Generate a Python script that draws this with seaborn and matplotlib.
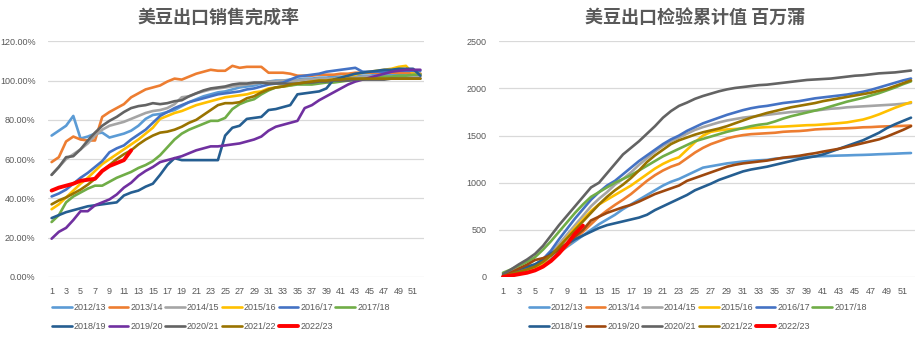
import matplotlib
matplotlib.use("Agg")
import matplotlib.pyplot as plt
from matplotlib.lines import Line2D
import pandas as pd
import seaborn as sns

weeks = list(range(1, 53))
seasons = ["2012/13", "2013/14", "2014/15", "2015/16", "2016/17", "2017/18",
           "2018/19", "2019/20", "2020/21", "2021/22", "2022/23"]
tick_weeks = list(range(1, 52, 2))

# 美豆出口销售完成率 (%)
sales_2012_13 = [72, 74.5, 77, 82, 70.5, 71.5, 73, 73.5, 71, 72, 73, 74.5, 77, 80.5, 82.5, 83, 84, 85, 87, 89,
                 90.5, 92, 93, 94, 94.5, 95.5, 96.5, 97, 97.5, 98.5, 99.5, 100, 100, 100.5, 100.5, 101, 101, 101.5,
                 101.5, 102, 102, 102, 102, 102.5, 102.5, 103, 103, 103, 103, 103.5, 103.5, 103.5]
sales_2013_14 = [58.5, 61, 69, 71.5, 70, 69.5, 69.5, 81.5, 84, 86, 88, 91.5, 93.5, 95.5, 96.5, 97.5, 99.5, 101,
                 100.5, 102, 103.5, 104.5, 105.5, 105, 105, 107.5, 106.5, 107, 107, 107, 104, 104, 104, 103.5,
                 102.5, 102.5, 102.5, 103, 103, 103, 103.5, 103.5, 104, 104, 104, 104, 104, 104, 104, 104, 103.5, 103.5]
sales_2014_15 = [52, 56, 60, 62.5, 65, 68, 72, 75, 77, 78, 79, 80.5, 82, 83.5, 84.5, 85, 86, 88, 91.5, 92, 93.5,
                 94.5, 95.5, 96, 96.5, 97, 97.5, 98, 98.5, 99, 99.5, 99.5, 100, 100, 100, 100.5, 100.5, 101, 101, 101,
                 101.5, 101.5, 101.5, 102, 102, 102, 102, 102, 102, 102, 102, 102]
sales_2015_16 = [34.5, 37, 40.5, 44, 47.5, 50.5, 54, 57.5, 60, 62.5, 65, 67.5, 70, 73, 76, 80.5, 82, 83.5, 84.5, 86,
                 87.5, 88.5, 89.5, 90.5, 91.5, 92, 92.5, 93, 94, 94.5, 96, 96.5, 97, 97.5, 98.5, 99, 99.5, 100, 100,
                 100.5, 101.5, 102.5, 103, 104, 104.5, 105, 105.5, 106, 107, 107.5, 103.5, 103]
sales_2016_17 = [41, 42.5, 44.5, 47.5, 50.5, 53, 56, 59, 63.5, 65.5, 67, 70, 72.5, 75, 78.5, 82, 84, 86, 87.5, 89,
                 90, 91, 92, 93, 93.5, 94, 94.5, 95.5, 96, 97, 98, 98.5, 99, 100.5, 102, 102.5, 103, 103.5, 104.5, 105,
                 105.5, 106, 106.5, 104.5, 104.5, 104.5, 104.5, 105, 105, 105, 105, 105]
sales_2017_18 = [28, 31.5, 38, 41, 43, 45, 46.5, 46.5, 48.5, 50.5, 52, 53.5, 55.5, 57, 59, 62, 66, 70, 73, 75, 76.5,
                 78, 79.5, 79.5, 81, 85.5, 88, 89.5, 90.5, 93, 95, 96.5, 97, 97.5, 98, 98, 98, 98.5, 99, 99, 99.5, 100,
                 100.5, 101, 101, 101.5, 102, 102, 102.5, 102.5, 103, 103]
sales_2018_19 = [30, 31.5, 33, 34, 35, 36, 36.5, 37, 37.5, 38, 41.5, 43, 44, 46, 47.5, 52, 57, 60.5, 59.5, 59.5, 59.5,
                 59.5, 59.5, 59.5, 72, 76, 77, 80.5, 81, 81.5, 85, 85.5, 86.5, 87.5, 93, 93.5, 94, 94.5, 96, 100.5,
                 101.5, 102.5, 103.5, 104, 104.5, 105, 105.5, 105.5, 106, 106, 106, 102.5]
sales_2019_20 = [19.5, 23, 25, 29, 33.5, 33.5, 36.5, 38, 39.5, 42, 45.5, 48, 51.5, 54, 56, 58.5, 59.5, 60.5, 61.5, 63,
                 64.5, 65.5, 66.5, 66.5, 67, 67.5, 68, 69, 70, 71.5, 74.5, 76.5, 77.5, 78.5, 79.5, 86, 87.5, 90, 92, 94,
                 96, 98, 99.5, 100.5, 101.5, 102.5, 103.5, 104.5, 105, 105.5, 105.5, 105.5]
sales_2020_21 = [52, 56, 61, 61.5, 65, 69.5, 73.5, 77, 79.5, 81.5, 84, 86, 87, 87.5, 88.5, 88, 88.5, 89.5, 90, 92,
                 93.5, 95, 96, 96.5, 97, 98, 98.5, 98.5, 99, 99, 98.5, 98.5, 98.5, 98.5, 98.5, 99, 99, 99.5, 99.5, 100,
                 100, 100, 100.5, 100.5, 100.5, 100.5, 100.5, 101, 101, 101, 101, 101]
sales_2021_22 = [37, 39, 40.5, 42.5, 44.5, 47, 50, 54, 57, 60, 62.5, 64.5, 67.5, 70, 72, 73.5, 74, 75, 76.5, 78.5,
                 80, 82.5, 85, 87.5, 88.5, 88.5, 89, 91, 92, 94, 95.5, 96.5, 97, 98, 98.5, 99, 99.5, 100, 100, 100.5,
                 100.5, 101, 101, 101, 101, 101, 101, 101, 101, 101, 101, 101]
sales_2022_23 = [44, 45.5, 46.5, 47.5, 49, 49.5, 50, 54, 56.5, 58, 59.5, 64.5]

# 美豆出口检验累计值 (百万蒲)
insp_2012_13 = [5, 20, 40, 60, 90, 130, 190, 260, 320, 380, 440, 500, 560, 610, 660, 720, 770, 820, 870, 920, 970,
                1010, 1040, 1080, 1120, 1160, 1175, 1190, 1205, 1215, 1225, 1232, 1238, 1242, 1255, 1262, 1268,
                1272, 1275, 1278, 1282, 1285, 1288, 1290, 1293, 1295, 1298, 1302, 1305, 1308, 1312, 1315]
insp_2013_14 = [5, 20, 40, 60, 80, 120, 180, 250, 330, 410, 480, 560, 640, 705, 765, 820, 880, 950, 1020, 1080,
                1130, 1170, 1200, 1260, 1320, 1370, 1410, 1440, 1470, 1490, 1505, 1515, 1520, 1525, 1530, 1540,
                1545, 1548, 1555, 1565, 1570, 1572, 1575, 1578, 1582, 1588, 1590, 1595, 1598, 1600, 1603, 1606]
insp_2014_15 = [10, 30, 55, 80, 110, 170, 250, 350, 450, 550, 650, 750, 830, 900, 980, 1040, 1110, 1190, 1260,
                1330, 1390, 1440, 1480, 1520, 1560, 1590, 1615, 1640, 1660, 1675, 1690, 1700, 1710, 1720, 1730,
                1740, 1750, 1755, 1760, 1765, 1775, 1785, 1790, 1800, 1805, 1810, 1815, 1820, 1825, 1830, 1838, 1845]
insp_2015_16 = [5, 15, 30, 55, 90, 150, 230, 320, 420, 520, 610, 700, 770, 820, 870, 920, 970, 1030, 1090, 1150,
                1200, 1240, 1270, 1350, 1430, 1500, 1540, 1555, 1565, 1570, 1575, 1580, 1585, 1590, 1592, 1595,
                1600, 1605, 1610, 1612, 1618, 1625, 1632, 1640, 1655, 1670, 1695, 1725, 1760, 1795, 1825, 1855]
insp_2016_17 = [15, 40, 65, 95, 130, 190, 280, 400, 510, 620, 720, 820, 900, 970, 1020, 1090, 1160, 1230, 1290,
                1350, 1410, 1460, 1500, 1550, 1590, 1630, 1660, 1690, 1720, 1745, 1770, 1790, 1805, 1815, 1830,
                1845, 1855, 1865, 1880, 1895, 1905, 1915, 1925, 1935, 1950, 1965, 1985, 2010, 2035, 2060, 2085, 2105]
insp_2017_18 = [45, 80, 120, 160, 210, 290, 380, 480, 580, 680, 770, 850, 900, 950, 1000, 1040, 1080, 1130, 1180,
                1230, 1280, 1320, 1360, 1400, 1440, 1465, 1490, 1515, 1540, 1560, 1580, 1600, 1615, 1625, 1650,
                1680, 1705, 1725, 1745, 1765, 1785, 1810, 1835, 1860, 1880, 1900, 1925, 1950, 1980, 2010, 2045, 2075]
insp_2018_19 = [5, 40, 85, 110, 135, 180, 250, 300, 350, 400, 440, 480, 520, 550, 570, 590, 610, 630, 660, 710,
                750, 790, 830, 870, 920, 955, 990, 1030, 1060, 1090, 1120, 1140, 1155, 1170, 1190, 1210, 1230,
                1250, 1265, 1280, 1300, 1330, 1360, 1390, 1420, 1450, 1490, 1530, 1580, 1620, 1655, 1690]
insp_2019_20 = [5, 50, 90, 130, 180, 200, 230, 290, 360, 430, 500, 600, 640, 680, 710, 740, 765, 800, 840, 880,
                910, 940, 970, 1020, 1050, 1080, 1110, 1140, 1170, 1190, 1205, 1215, 1225, 1235, 1250, 1265, 1275,
                1285, 1300, 1313, 1330, 1345, 1360, 1380, 1400, 1420, 1440, 1460, 1490, 1525, 1560, 1600]
insp_2020_21 = [30, 80, 135, 185, 245, 330, 440, 550, 650, 750, 850, 950, 1000, 1100, 1200, 1300, 1370, 1440, 1520,
                1600, 1690, 1760, 1815, 1850, 1890, 1920, 1945, 1970, 1990, 2005, 2015, 2025, 2035, 2040, 2050,
                2060, 2070, 2080, 2090, 2095, 2100, 2105, 2115, 2125, 2135, 2140, 2150, 2160, 2165, 2170, 2180, 2190]
insp_2021_22 = [10, 30, 55, 80, 110, 160, 230, 320, 410, 500, 590, 680, 770, 850, 920, 980, 1050, 1130, 1220, 1290,
                1350, 1410, 1450, 1480, 1510, 1535, 1555, 1575, 1600, 1630, 1660, 1690, 1715, 1740, 1760, 1780,
                1800, 1815, 1830, 1845, 1865, 1880, 1895, 1910, 1925, 1940, 1955, 1975, 1995, 2025, 2055, 2085]
insp_2022_23 = [0, 15, 30, 45, 70, 110, 170, 250, 350, 460, 545]

sales = [sales_2012_13, sales_2013_14, sales_2014_15, sales_2015_16, sales_2016_17, sales_2017_18,
         sales_2018_19, sales_2019_20, sales_2020_21, sales_2021_22, sales_2022_23]
insp = [insp_2012_13, insp_2013_14, insp_2014_15, insp_2015_16, insp_2016_17, insp_2017_18,
        insp_2018_19, insp_2019_20, insp_2020_21, insp_2021_22, insp_2022_23]

base_colors = ["#5B9BD5", "#ED7D31", "#A5A5A5", "#FFC000", "#4472C4", "#70AD47", "#255E91"]
left_colors = base_colors + ["#7030A0", "#636363", "#997300", "#FF0000"]
right_colors = base_colors + ["#9E480E", "#636363", "#997300", "#FF0000"]


def long_frame(series):
    rows = []
    for s, vals in zip(seasons, series):
        for w, v in zip(weeks, vals):
            rows.append({"week": w, "value": v, "season": s})
    return pd.DataFrame(rows)


sns.set_theme(style="white")
plt.rcParams["font.family"] = ["Liberation Sans", "Noto Sans CJK SC", "DejaVu Sans"]

TEXT = "#595959"
GRID = "#D9D9D9"
W, H = 924, 342
fig = plt.figure(figsize=(W / 100, H / 100), dpi=100)
ax1 = fig.add_axes([48 / W, 65 / H, 376 / W, 235.7 / H])
ax2 = fig.add_axes([499 / W, 65 / H, 416 / W, 235.7 / H])


def draw(ax, series, colors, ymax, ystep, fmt):
    df = long_frame(series)
    sns.lineplot(data=df, x="week", y="value", hue="season", hue_order=seasons,
                 palette=dict(zip(seasons, colors)), linewidth=1.9, ax=ax,
                 legend=False, sort=False, estimator=None)
    ax.lines[-1].set_linewidth(2.8)
    ax.set_xlim(0.5, 52.5)
    ax.set_ylim(0, ymax)
    ax.set_yticks(list(range(0, ymax + 1, ystep)))
    ax.set_yticklabels([fmt(v) for v in range(0, ymax + 1, ystep)])
    ax.set_xticks(tick_weeks)
    ax.set_xticklabels([str(w) for w in tick_weeks])
    ax.set_xlabel("")
    ax.set_ylabel("")
    ax.grid(axis="y", color=GRID, linewidth=0.9)
    ax.grid(axis="x", visible=False)
    ax.set_axisbelow(True)
    for sp in ax.spines.values():
        sp.set_visible(False)
    ax.tick_params(axis="both", length=0, labelsize=6.5, colors=TEXT)
    ax.tick_params(axis="y", pad=9)
    ax.tick_params(axis="x", pad=7)
    handles = [Line2D([], [], color=c, linewidth=2.8 if s == "2022/23" else 1.9)
               for s, c in zip(seasons, colors)]
    return handles


h1 = draw(ax1, sales, left_colors, 120, 20, lambda v: f"{v:.2f}%")
h2 = draw(ax2, insp, right_colors, 2500, 500, lambda v: f"{v}")

# legend filled column by column, so interleave to get two rows of 6 + 5
order = [0, 6, 1, 7, 2, 8, 3, 9, 4, 10, 5]
for ax, handles, x0 in ((ax1, h1, 52), (ax2, h2, 529)):
    leg = ax.legend([handles[i] for i in order], [seasons[i] for i in order], ncol=6,
                    loc="upper left", bbox_to_anchor=(x0 / W, 1 - 303 / H),
                    bbox_transform=fig.transFigure, frameon=False, fontsize=6.5,
                    handlelength=2.2, handletextpad=0.22, columnspacing=0.25,
                    borderaxespad=0, borderpad=0, labelspacing=1.1)
    for t in leg.get_texts():
        t.set_color(TEXT)

title_kw = dict(ha="center", va="center", fontsize=13, fontweight="bold", color=TEXT,
                family=["Noto Sans CJK SC", "DejaVu Sans"])
fig.text(218.5 / W, 1 - 17 / H, "美豆出口销售完成率", **title_kw)
fig.text(695 / W, 1 - 17 / H, "美豆出口检验累计值 百万蒲", **title_kw)

fig.savefig("out.png", dpi=100)
